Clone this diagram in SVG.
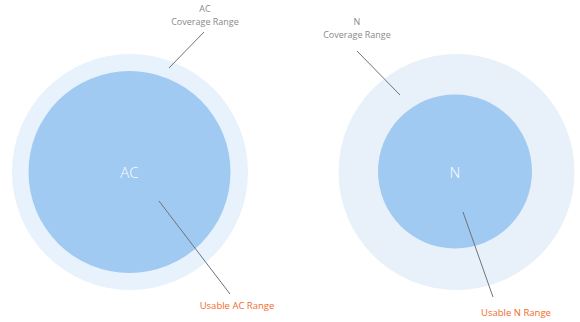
<svg xmlns="http://www.w3.org/2000/svg" width="580" height="322" viewBox="0 0 580 322">
<style>
.outer{fill:#e7f2fd}
.inner{fill:#a0caf1}
.lbl{font-family:"Open Sans","Noto Sans",sans-serif;font-size:9px;fill:#8a8a8a;text-anchor:middle}
.use{font-family:"Open Sans","Noto Sans",sans-serif;font-size:9.5px;fill:#f26b2a;text-anchor:middle}
.ctr{font-family:"Open Sans","Noto Sans",sans-serif;font-size:15px;font-weight:300;fill:#ffffff;text-anchor:middle}
.ln{stroke:#6e7378;stroke-width:1;fill:none}
</style>
<rect width="580" height="322" fill="#ffffff"/>
<g id="ac-coverage">
<circle class="outer" cx="130" cy="172" r="118"/>
<text class="lbl" x="205" y="12">AC</text>
<text class="lbl" x="205" y="24.5">Coverage Range</text>
</g>
<g id="ac-usable">
<circle class="inner" cx="129.5" cy="172" r="101"/>
<text class="ctr" x="129.5" y="178">AC</text>
<text class="use" x="237" y="309">Usable AC Range</text>
</g>
<g id="n-coverage">
<circle class="outer" cx="456.5" cy="172" r="118" style="fill:#e8f1fa"/>
<text class="lbl" x="357" y="25">N</text>
<text class="lbl" x="357" y="38">Coverage Range</text>
</g>
<g id="n-usable">
<circle class="inner" cx="455" cy="171.5" r="77"/>
<text class="ctr" x="455" y="178">N</text>
<text class="use" x="516" y="316">Usable N Range</text>
</g>
<g id="connectors">
<line class="ln" x1="204" y1="32" x2="169" y2="68"/>
<line class="ln" x1="357" y1="51" x2="400" y2="95"/>
<line class="ln" x1="159" y1="201" x2="230" y2="294"/>
<line class="ln" x1="463" y1="212" x2="493" y2="297"/>
</g>
</svg>
